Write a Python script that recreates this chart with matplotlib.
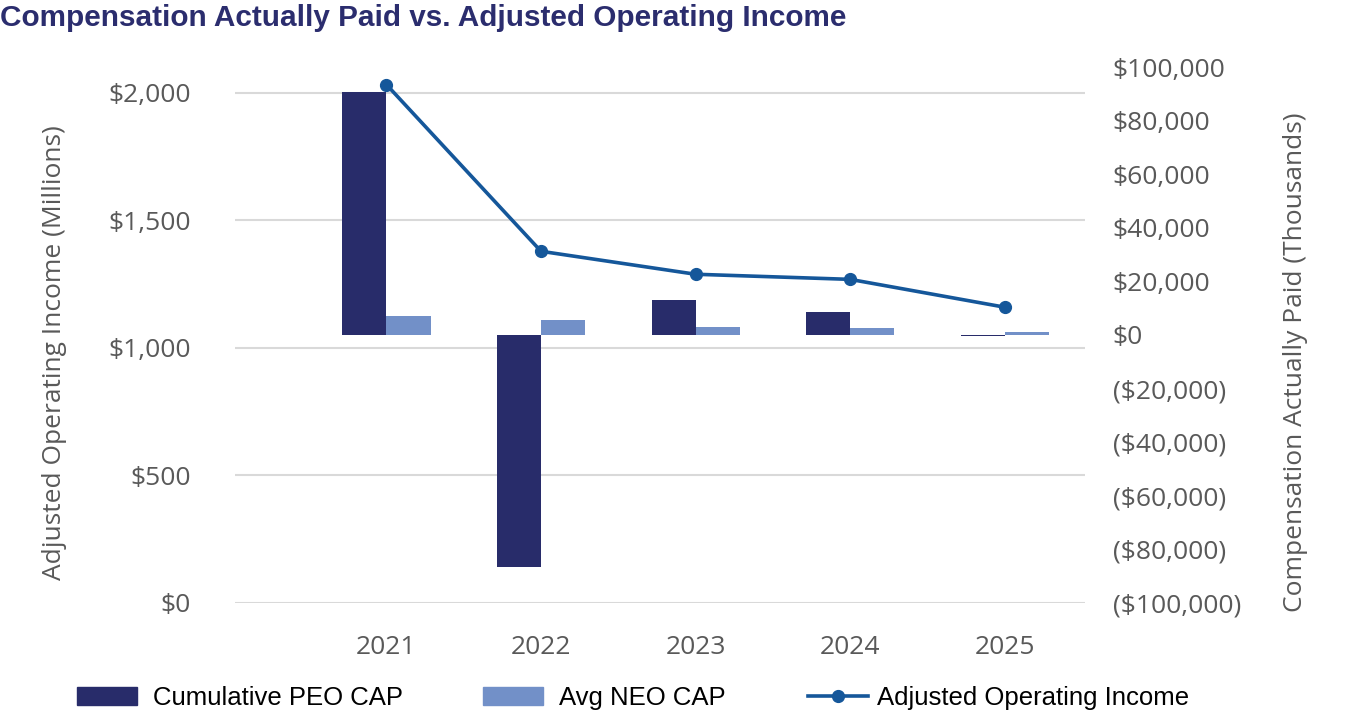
import matplotlib
matplotlib.use("Agg")
import matplotlib.pyplot as plt  # noqa: E402
import numpy as np  # noqa: E402
from matplotlib.lines import Line2D  # noqa: E402
from matplotlib.patches import Patch  # noqa: E402
from matplotlib.ticker import FuncFormatter  # noqa: E402

YEARS = ["2021", "2022", "2023", "2024", "2025"]
PEO_CAP = [90700, -86600, 13100, 8700, -500]        # thousands
NEO_CAP = [7100, 5600, 3100, 2600, 1100]            # thousands
ADJ_OP_INCOME = [2031, 1378, 1288, 1268, 1159]      # millions
LEFT_TICKS = [0, 500, 1000, 1500, 2000]
RIGHT_TICKS = list(range(-100000, 100001, 20000))

PEO_COLOR = "#282C6A"
NEO_COLOR = "#7290C8"
LINE_COLOR = "#15579A"
TICK_COLOR = "#595959"
TICK_FONT = ["Open Sans", "DejaVu Sans"]
LEG_FONT = ["Liberation Sans", "DejaVu Sans"]
W, H = 1370, 716

fig = plt.figure(figsize=(13.7, 7.16), dpi=100)
ax = fig.add_axes([235 / W, (H - 603) / H, 850 / W, 536 / H])
ax2 = ax.twinx()

x = np.arange(len(YEARS))
w = 0.285

# gridlines belong to left axis
ax.set_ylim(0, 2100)
ax.set_yticks(LEFT_TICKS)
ax.yaxis.grid(True, color="#D9D9D9", linewidth=1.5)
ax.set_axisbelow(True)
ax.yaxis.set_major_formatter(FuncFormatter(lambda v, _: f"${v:,.0f}"))

# bars on right axis, line on left scale (drawn above bars)
ax2.bar(x - w / 2, PEO_CAP, width=w, color=PEO_COLOR, zorder=2)
ax2.bar(x + w / 2, NEO_CAP, width=w, color=NEO_COLOR, zorder=2)
ax2.set_ylim(-100000, 100000)
ax2.set_yticks(RIGHT_TICKS)
ax2.yaxis.set_major_formatter(
    FuncFormatter(lambda v, _: f"${v:,.0f}" if v >= 0 else f"(${-v:,.0f})"))

ax3 = ax.twinx()
ax3.set_ylim(0, 2100)
ax3.plot(x, ADJ_OP_INCOME, color=LINE_COLOR, linewidth=2.6, marker="o",
         markersize=8.5, zorder=3)
ax3.axis("off")

ax.set_xlim(-0.98, 4.52)
ax.set_xticks(x)
ax.set_xticklabels(YEARS)

for a in (ax, ax2, ax3):
    for s in a.spines.values():
        s.set_visible(False)

ax.tick_params(axis="y", length=0, pad=32, labelsize=19, labelcolor=TICK_COLOR)
ax.tick_params(axis="x", length=0, pad=23, labelsize=19, labelcolor=TICK_COLOR)
ax2.tick_params(axis="y", length=0, pad=20, labelsize=19, labelcolor=TICK_COLOR)
for lab in ax.get_xticklabels() + ax.get_yticklabels() + ax2.get_yticklabels():
    lab.set_fontfamily(TICK_FONT)

fig.text(55 / W, 1 - 353 / H, "Adjusted Operating Income (Millions)",
         rotation=90, fontsize=19, color=TICK_COLOR, family=TICK_FONT,
         ha="center", va="center")
fig.text(1296 / W, 1 - 362 / H, "Compensation Actually Paid (Thousands)",
         rotation=90, fontsize=19, color=TICK_COLOR, family=TICK_FONT,
         ha="center", va="center")

fig.text(0.0, 1 - 4 / H, "Compensation Actually Paid vs. Adjusted Operating Income",
         fontsize=21.4, fontweight="bold", color="#2B2D6E", family=LEG_FONT,
         ha="left", va="top")

# legend: three entries placed individually
entries = [
    (Patch(color=PEO_COLOR), "Cumulative PEO CAP", 77, 0.62),
    (Patch(color=NEO_COLOR), "Avg NEO CAP", 483, 0.62),
    (Line2D([], [], color=LINE_COLOR, linewidth=2.6, marker="o", markersize=8.5),
     "Adjusted Operating Income", 808, 0.35),
]
for h, lab, xpix, tpad in entries:
    fig.legend(handles=[h], labels=[lab], loc="center left",
               bbox_to_anchor=(xpix / W, 1 - 698 / H), frameon=False,
               prop={"family": LEG_FONT, "size": 18.5}, handlelength=2.35,
               handleheight=0.7, handletextpad=tpad, borderaxespad=0,
               borderpad=0)

fig.savefig("out.png", dpi=100)
